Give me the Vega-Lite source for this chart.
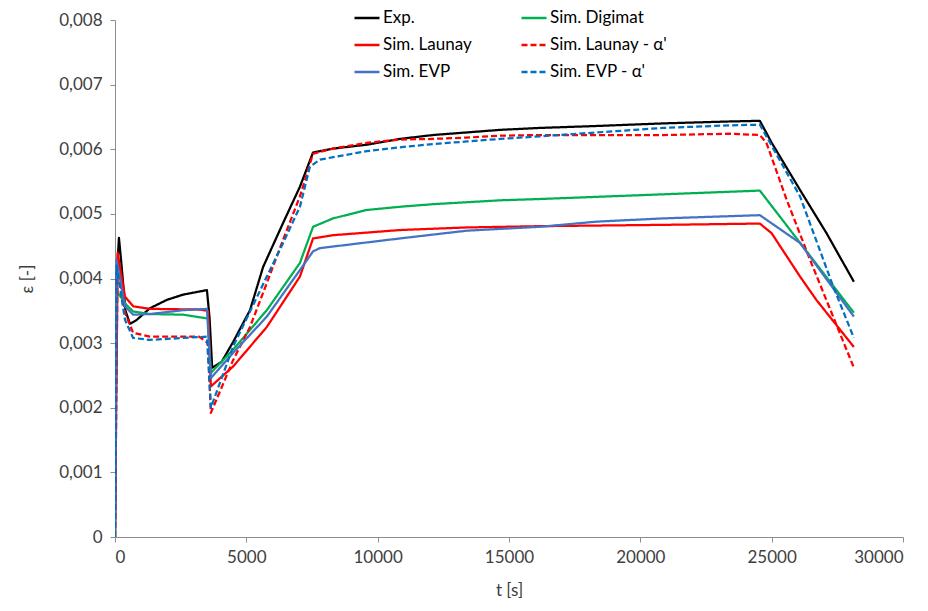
{
  "$schema": "https://vega.github.io/schema/vega-lite/v6.json",
  "width": 788,
  "height": 517,
  "autosize": {"type": "none"},
  "padding": {"left": 115, "top": 20, "right": 25, "bottom": 74},
  "background": "white",
  "config": {
    "view": {"stroke": null},
    "font": "Lato"
  },
  "data": {
    "values": [
      {"s": "Exp.", "t": 0, "v": 0},
      {"s": "Exp.", "t": 60, "v": 0.004},
      {"s": "Exp.", "t": 150, "v": 0.00463},
      {"s": "Exp.", "t": 250, "v": 0.0042},
      {"s": "Exp.", "t": 400, "v": 0.0035},
      {"s": "Exp.", "t": 570, "v": 0.0033},
      {"s": "Exp.", "t": 800, "v": 0.00335},
      {"s": "Exp.", "t": 1330, "v": 0.00354},
      {"s": "Exp.", "t": 1980, "v": 0.00367},
      {"s": "Exp.", "t": 2590, "v": 0.00375},
      {"s": "Exp.", "t": 3236, "v": 0.0038},
      {"s": "Exp.", "t": 3500, "v": 0.00382},
      {"s": "Exp.", "t": 3600, "v": 0.00339},
      {"s": "Exp.", "t": 3700, "v": 0.00262},
      {"s": "Exp.", "t": 4060, "v": 0.00271},
      {"s": "Exp.", "t": 4500, "v": 0.00302},
      {"s": "Exp.", "t": 5140, "v": 0.00351},
      {"s": "Exp.", "t": 5640, "v": 0.00418},
      {"s": "Exp.", "t": 6400, "v": 0.00486},
      {"s": "Exp.", "t": 7040, "v": 0.00542},
      {"s": "Exp.", "t": 7540, "v": 0.00595},
      {"s": "Exp.", "t": 8300, "v": 0.00601},
      {"s": "Exp.", "t": 9580, "v": 0.00607},
      {"s": "Exp.", "t": 10850, "v": 0.00616},
      {"s": "Exp.", "t": 12100, "v": 0.00622},
      {"s": "Exp.", "t": 13390, "v": 0.00626},
      {"s": "Exp.", "t": 14660, "v": 0.0063},
      {"s": "Exp.", "t": 16180, "v": 0.00633},
      {"s": "Exp.", "t": 18340, "v": 0.00636},
      {"s": "Exp.", "t": 20870, "v": 0.0064},
      {"s": "Exp.", "t": 23410, "v": 0.00643},
      {"s": "Exp.", "t": 24550, "v": 0.00644},
      {"s": "Exp.", "t": 25000, "v": 0.0061},
      {"s": "Exp.", "t": 26080, "v": 0.00537},
      {"s": "Exp.", "t": 27090, "v": 0.0047},
      {"s": "Exp.", "t": 28130, "v": 0.00395},

      {"s": "Sim. Digimat", "t": 0, "v": 0},
      {"s": "Sim. Digimat", "t": 60, "v": 0.0038},
      {"s": "Sim. Digimat", "t": 440, "v": 0.00359},
      {"s": "Sim. Digimat", "t": 690, "v": 0.00349},
      {"s": "Sim. Digimat", "t": 1330, "v": 0.00345},
      {"s": "Sim. Digimat", "t": 2600, "v": 0.00344},
      {"s": "Sim. Digimat", "t": 3540, "v": 0.00338},
      {"s": "Sim. Digimat", "t": 3650, "v": 0.00254},
      {"s": "Sim. Digimat", "t": 4500, "v": 0.0029},
      {"s": "Sim. Digimat", "t": 5780, "v": 0.00351},
      {"s": "Sim. Digimat", "t": 7040, "v": 0.00424},
      {"s": "Sim. Digimat", "t": 7540, "v": 0.0048},
      {"s": "Sim. Digimat", "t": 8300, "v": 0.00493},
      {"s": "Sim. Digimat", "t": 9580, "v": 0.00506},
      {"s": "Sim. Digimat", "t": 10850, "v": 0.00511},
      {"s": "Sim. Digimat", "t": 12100, "v": 0.00515},
      {"s": "Sim. Digimat", "t": 13390, "v": 0.00518},
      {"s": "Sim. Digimat", "t": 14660, "v": 0.00521},
      {"s": "Sim. Digimat", "t": 16180, "v": 0.00523},
      {"s": "Sim. Digimat", "t": 24550, "v": 0.00536},
      {"s": "Sim. Digimat", "t": 28130, "v": 0.00347},

      {"s": "Sim. Launay", "t": 0, "v": 0},
      {"s": "Sim. Launay", "t": 100, "v": 0.0044},
      {"s": "Sim. Launay", "t": 380, "v": 0.00372},
      {"s": "Sim. Launay", "t": 690, "v": 0.00357},
      {"s": "Sim. Launay", "t": 1330, "v": 0.00353},
      {"s": "Sim. Launay", "t": 3200, "v": 0.00352},
      {"s": "Sim. Launay", "t": 3540, "v": 0.0035},
      {"s": "Sim. Launay", "t": 3650, "v": 0.00233},
      {"s": "Sim. Launay", "t": 4500, "v": 0.00264},
      {"s": "Sim. Launay", "t": 5780, "v": 0.00325},
      {"s": "Sim. Launay", "t": 7040, "v": 0.00403},
      {"s": "Sim. Launay", "t": 7540, "v": 0.00462},
      {"s": "Sim. Launay", "t": 8300, "v": 0.00467},
      {"s": "Sim. Launay", "t": 10850, "v": 0.00475},
      {"s": "Sim. Launay", "t": 13390, "v": 0.00479},
      {"s": "Sim. Launay", "t": 16180, "v": 0.00481},
      {"s": "Sim. Launay", "t": 20870, "v": 0.00483},
      {"s": "Sim. Launay", "t": 24550, "v": 0.00485},
      {"s": "Sim. Launay", "t": 25000, "v": 0.0047},
      {"s": "Sim. Launay", "t": 26080, "v": 0.00403},
      {"s": "Sim. Launay", "t": 26700, "v": 0.00367},
      {"s": "Sim. Launay", "t": 28130, "v": 0.00294},

      {"s": "Sim. Launay - α'", "t": 0, "v": 0},
      {"s": "Sim. Launay - α'", "t": 100, "v": 0.00426},
      {"s": "Sim. Launay - α'", "t": 380, "v": 0.00347},
      {"s": "Sim. Launay - α'", "t": 690, "v": 0.00316},
      {"s": "Sim. Launay - α'", "t": 1330, "v": 0.0031},
      {"s": "Sim. Launay - α'", "t": 3200, "v": 0.0031},
      {"s": "Sim. Launay - α'", "t": 3540, "v": 0.003},
      {"s": "Sim. Launay - α'", "t": 3650, "v": 0.00192},
      {"s": "Sim. Launay - α'", "t": 4500, "v": 0.00274},
      {"s": "Sim. Launay - α'", "t": 5140, "v": 0.00325},
      {"s": "Sim. Launay - α'", "t": 5780, "v": 0.00393},
      {"s": "Sim. Launay - α'", "t": 6400, "v": 0.0046},
      {"s": "Sim. Launay - α'", "t": 7040, "v": 0.00527},
      {"s": "Sim. Launay - α'", "t": 7540, "v": 0.00593},
      {"s": "Sim. Launay - α'", "t": 8300, "v": 0.00601},
      {"s": "Sim. Launay - α'", "t": 9580, "v": 0.0061},
      {"s": "Sim. Launay - α'", "t": 10850, "v": 0.00615},
      {"s": "Sim. Launay - α'", "t": 12100, "v": 0.00616},
      {"s": "Sim. Launay - α'", "t": 13390, "v": 0.00618},
      {"s": "Sim. Launay - α'", "t": 14660, "v": 0.00621},
      {"s": "Sim. Launay - α'", "t": 16180, "v": 0.00622},
      {"s": "Sim. Launay - α'", "t": 20870, "v": 0.00622},
      {"s": "Sim. Launay - α'", "t": 23410, "v": 0.00624},
      {"s": "Sim. Launay - α'", "t": 24550, "v": 0.00622},
      {"s": "Sim. Launay - α'", "t": 24800, "v": 0.0061},
      {"s": "Sim. Launay - α'", "t": 25570, "v": 0.00522},
      {"s": "Sim. Launay - α'", "t": 26460, "v": 0.00429},
      {"s": "Sim. Launay - α'", "t": 27340, "v": 0.00341},
      {"s": "Sim. Launay - α'", "t": 28130, "v": 0.00262},

      {"s": "Sim. EVP", "t": 0, "v": 0},
      {"s": "Sim. EVP", "t": 60, "v": 0.00429},
      {"s": "Sim. EVP", "t": 380, "v": 0.00357},
      {"s": "Sim. EVP", "t": 690, "v": 0.00344},
      {"s": "Sim. EVP", "t": 1330, "v": 0.00345},
      {"s": "Sim. EVP", "t": 2600, "v": 0.00351},
      {"s": "Sim. EVP", "t": 3500, "v": 0.00353},
      {"s": "Sim. EVP", "t": 3650, "v": 0.00246},
      {"s": "Sim. EVP", "t": 4500, "v": 0.00285},
      {"s": "Sim. EVP", "t": 5780, "v": 0.00341},
      {"s": "Sim. EVP", "t": 7040, "v": 0.00413},
      {"s": "Sim. EVP", "t": 7540, "v": 0.00442},
      {"s": "Sim. EVP", "t": 7800, "v": 0.00447},
      {"s": "Sim. EVP", "t": 10850, "v": 0.00462},
      {"s": "Sim. EVP", "t": 13390, "v": 0.00474},
      {"s": "Sim. EVP", "t": 16180, "v": 0.0048},
      {"s": "Sim. EVP", "t": 18340, "v": 0.00488},
      {"s": "Sim. EVP", "t": 20870, "v": 0.00493},
      {"s": "Sim. EVP", "t": 24550, "v": 0.00498},
      {"s": "Sim. EVP", "t": 26080, "v": 0.00455},
      {"s": "Sim. EVP", "t": 28130, "v": 0.00341},

      {"s": "Sim. EVP - α'", "t": 0, "v": 0},
      {"s": "Sim. EVP - α'", "t": 60, "v": 0.0042},
      {"s": "Sim. EVP - α'", "t": 380, "v": 0.00336},
      {"s": "Sim. EVP - α'", "t": 690, "v": 0.00308},
      {"s": "Sim. EVP - α'", "t": 1330, "v": 0.00305},
      {"s": "Sim. EVP - α'", "t": 2600, "v": 0.00308},
      {"s": "Sim. EVP - α'", "t": 3500, "v": 0.0031},
      {"s": "Sim. EVP - α'", "t": 3650, "v": 0.002},
      {"s": "Sim. EVP - α'", "t": 4500, "v": 0.00295},
      {"s": "Sim. EVP - α'", "t": 5780, "v": 0.00403},
      {"s": "Sim. EVP - α'", "t": 6400, "v": 0.00455},
      {"s": "Sim. EVP - α'", "t": 7040, "v": 0.00511},
      {"s": "Sim. EVP - α'", "t": 7420, "v": 0.00573},
      {"s": "Sim. EVP - α'", "t": 7800, "v": 0.00584},
      {"s": "Sim. EVP - α'", "t": 9580, "v": 0.00597},
      {"s": "Sim. EVP - α'", "t": 10850, "v": 0.00603},
      {"s": "Sim. EVP - α'", "t": 12100, "v": 0.00608},
      {"s": "Sim. EVP - α'", "t": 13390, "v": 0.00612},
      {"s": "Sim. EVP - α'", "t": 14660, "v": 0.00616},
      {"s": "Sim. EVP - α'", "t": 16180, "v": 0.0062},
      {"s": "Sim. EVP - α'", "t": 18340, "v": 0.00626},
      {"s": "Sim. EVP - α'", "t": 20870, "v": 0.00633},
      {"s": "Sim. EVP - α'", "t": 23410, "v": 0.00637},
      {"s": "Sim. EVP - α'", "t": 24550, "v": 0.00638},
      {"s": "Sim. EVP - α'", "t": 24800, "v": 0.0062},
      {"s": "Sim. EVP - α'", "t": 26080, "v": 0.00527},
      {"s": "Sim. EVP - α'", "t": 27340, "v": 0.00388},
      {"s": "Sim. EVP - α'", "t": 28130, "v": 0.00308}
    ]
  },
  "mark": {"type": "line", "strokeWidth": 2.25, "strokeJoin": "round", "clip": true},
  "encoding": {
    "x": {
      "field": "t",
      "type": "quantitative",
      "scale": {"domain": [0, 30000], "nice": false},
      "axis": {
        "title": "t [s]",
        "values": [0, 5000, 10000, 15000, 20000, 25000, 30000],
        "format": "d",
        "grid": false,
        "domainColor": "#8c8c8c",
        "tickColor": "#8c8c8c",
        "tickSize": 5,
        "labelFontSize": 17,
        "labelColor": "#404040",
        "labelPadding": 7,
        "titleFontSize": 17,
        "titleFontWeight": "normal",
        "titleColor": "#404040",
        "titlePadding": 17
      }
    },
    "y": {
      "field": "v",
      "type": "quantitative",
      "scale": {"domain": [0, 0.008], "nice": false},
      "axis": {
        "title": "ε [-]",
        "values": [0, 0.001, 0.002, 0.003, 0.004, 0.005, 0.006, 0.007, 0.008],
        "labelExpr": "datum.value == 0 ? '0' : replace(format(datum.value, '.3f'), '.', ',')",
        "grid": false,
        "domainColor": "#8c8c8c",
        "tickColor": "#8c8c8c",
        "tickSize": 5,
        "labelFontSize": 17,
        "labelColor": "#404040",
        "labelPadding": 8,
        "titleFontSize": 17,
        "titleFontWeight": "normal",
        "titleColor": "#404040",
        "titlePadding": 22
      }
    },
    "color": {
      "field": "s",
      "type": "nominal",
      "scale": {
        "domain": ["Exp.", "Sim. Launay", "Sim. EVP", "Sim. Digimat", "Sim. Launay - α'", "Sim. EVP - α'"],
        "range": ["#000000", "#FF0000", "#4472C4", "#00B050", "#FF0000", "#0070C0"]
      },
      "legend": {
        "title": null,
        "orient": "none",
        "legendX": 238,
        "legendY": -16,
        "columns": 2,
        "columnPadding": 44,
        "rowPadding": 5,
        "symbolType": "stroke",
        "symbolSize": 625,
        "symbolStrokeWidth": 2.5,
        "symbolOffset": 0,
        "labelOffset": 2,
        "labelFontSize": 17,
        "labelColor": "#000000",
        "labelLimit": 300
      }
    },
    "strokeDash": {
      "field": "s",
      "type": "nominal",
      "scale": {
        "domain": ["Exp.", "Sim. Launay", "Sim. EVP", "Sim. Digimat", "Sim. Launay - α'", "Sim. EVP - α'"],
        "range": [[1, 0], [1, 0], [1, 0], [1, 0], [6, 3], [6, 3]]
      },
      "legend": null
    },
    "order": {"field": "t", "type": "quantitative"}
  }
}
